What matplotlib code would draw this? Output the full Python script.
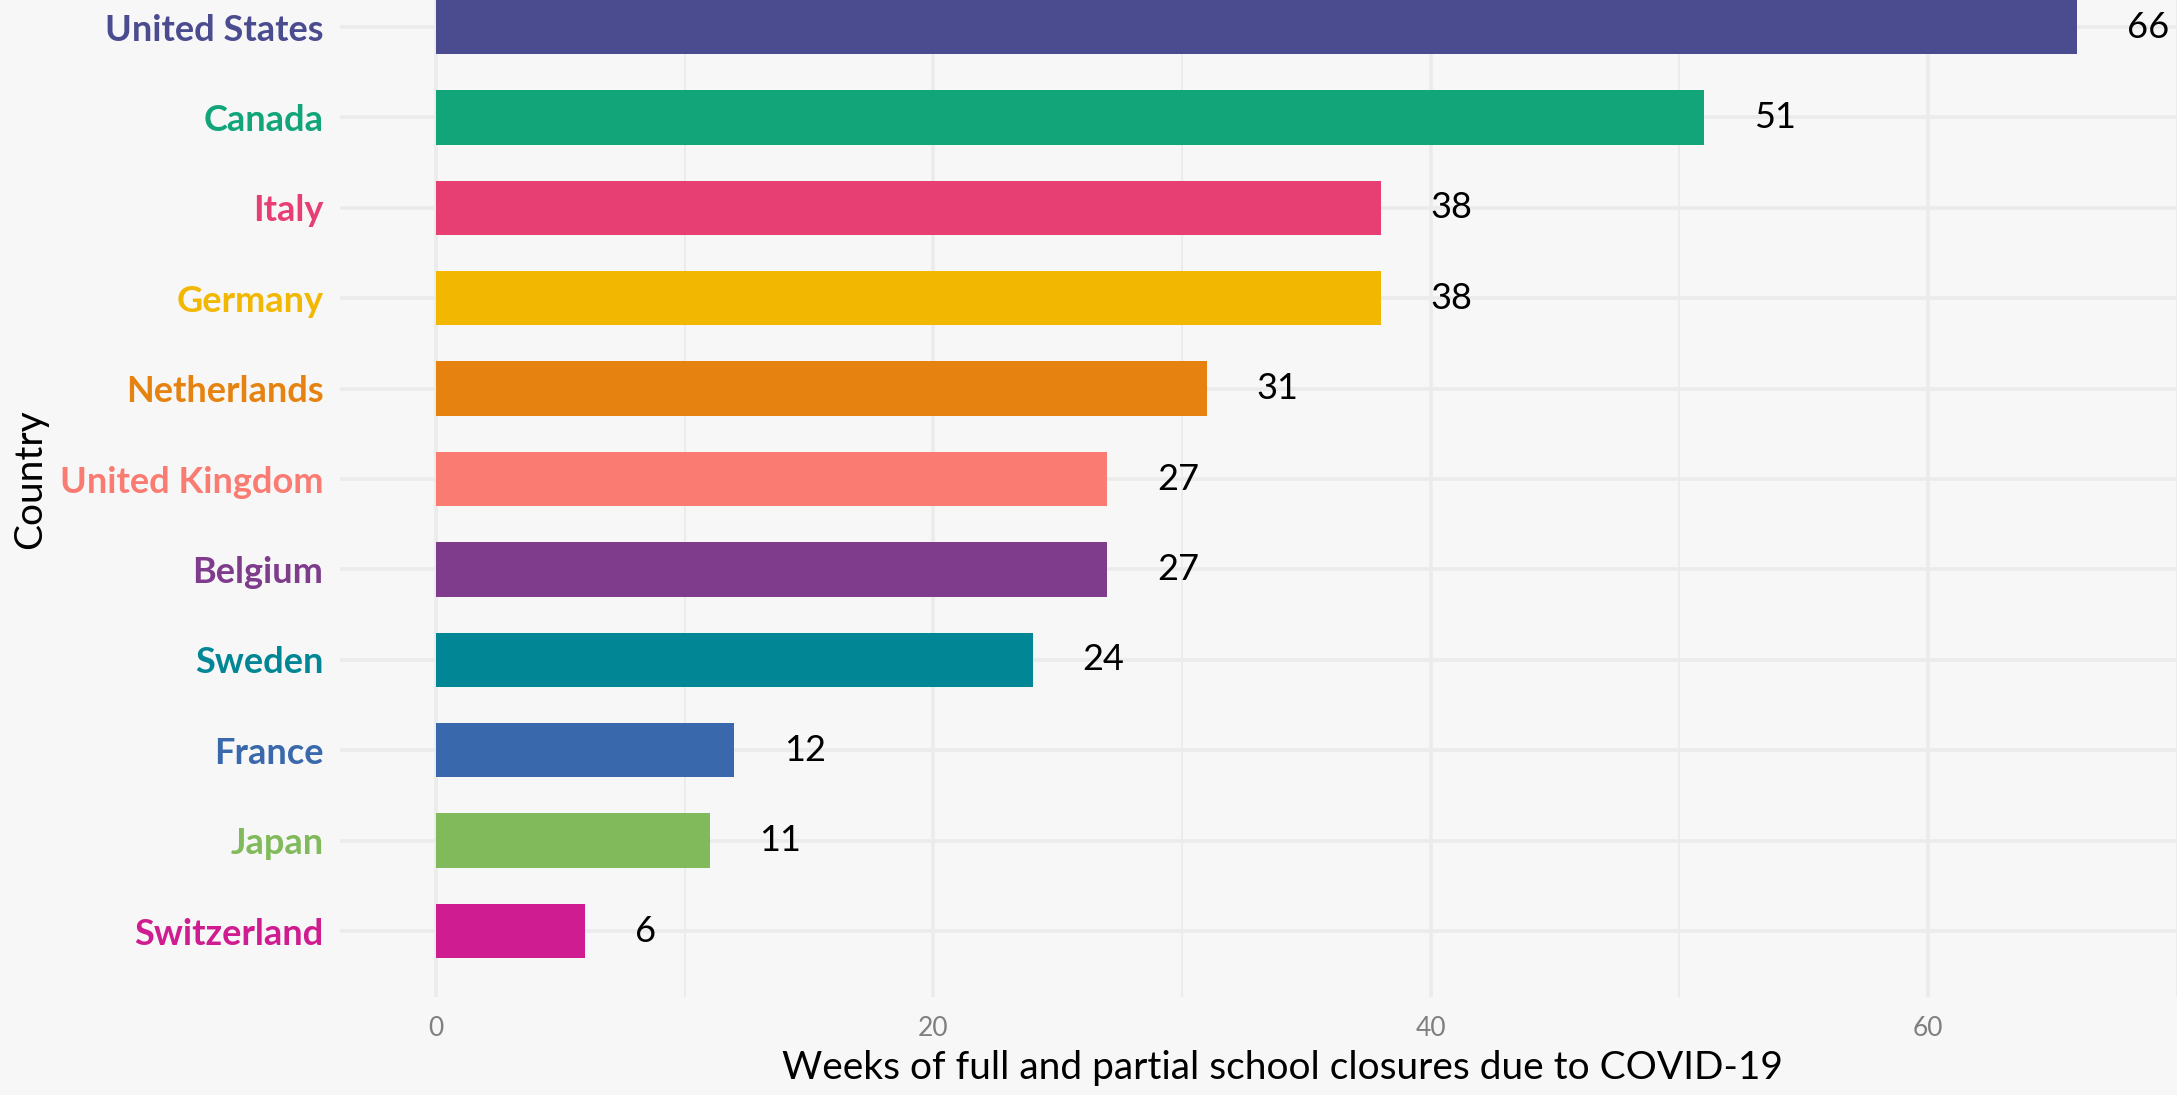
import matplotlib
matplotlib.use("Agg")
import matplotlib.pyplot as plt
from matplotlib.ticker import MultipleLocator

countries = ["Switzerland", "Japan", "France", "Sweden", "Belgium", "United Kingdom",
             "Netherlands", "Germany", "Italy", "Canada", "United States"]
weeks = [6, 11, 12, 24, 27, 27, 31, 38, 38, 51, 66]
colors = ["#CF1C90", "#80BA5A", "#3969AC", "#008695", "#7F3C8D", "#F97B72",
          "#E68310", "#F2B701", "#E73F74", "#11A579", "#4B4B8F"]
x_ticks = [0, 20, 40, 60]
x_label = "Weeks of full and partial school closures due to COVID-19"
y_label = "Country"

plt.rcParams["font.family"] = ["Lato", "DejaVu Sans"]
bg = "#f7f7f7"
fig = plt.figure(figsize=(21.77, 10.95), dpi=100, facecolor=bg)
ax = fig.add_axes([0.1562, 0.0895, 0.8654, 0.9461])
ax.set_facecolor(bg)

ypos = list(range(len(countries)))
ax.barh(ypos, weeks, height=0.6, color=colors, zorder=3)
for y, v in zip(ypos, weeks):
    ax.text(v + 2, y, str(v), ha="left", va="center", fontsize=26, color="black", zorder=4)

ax.set_xlim(-3.86, 71.9)
ax.set_ylim(-0.73, 10.73)
ax.set_xticks(x_ticks)
ax.xaxis.set_minor_locator(MultipleLocator(10))
ax.set_yticks(ypos)
ax.set_yticklabels(countries, fontsize=26, fontweight="bold")
for lbl, c in zip(ax.get_yticklabels(), colors):
    lbl.set_color(c)
ax.tick_params(axis="x", which="both", labelsize=19, labelcolor="#7f7f7f", length=0, pad=14)
ax.tick_params(axis="y", which="both", length=0, pad=12)
ax.grid(True, which="major", axis="both", color="#ebebeb", linewidth=2.6, zorder=0)
ax.grid(True, which="minor", axis="x", color="#ebebeb", linewidth=1.3, zorder=0)
ax.set_axisbelow(True)
for s in ax.spines.values():
    s.set_visible(False)

ax.set_xlabel(x_label, fontsize=28, color="black", labelpad=6)
ax.set_ylabel(y_label, fontsize=28, color="black")
ax.yaxis.set_label_coords(-0.1645, 0.5)
ax.yaxis.label.set_verticalalignment("center")

fig.savefig("out.png", dpi=100, facecolor=bg)
